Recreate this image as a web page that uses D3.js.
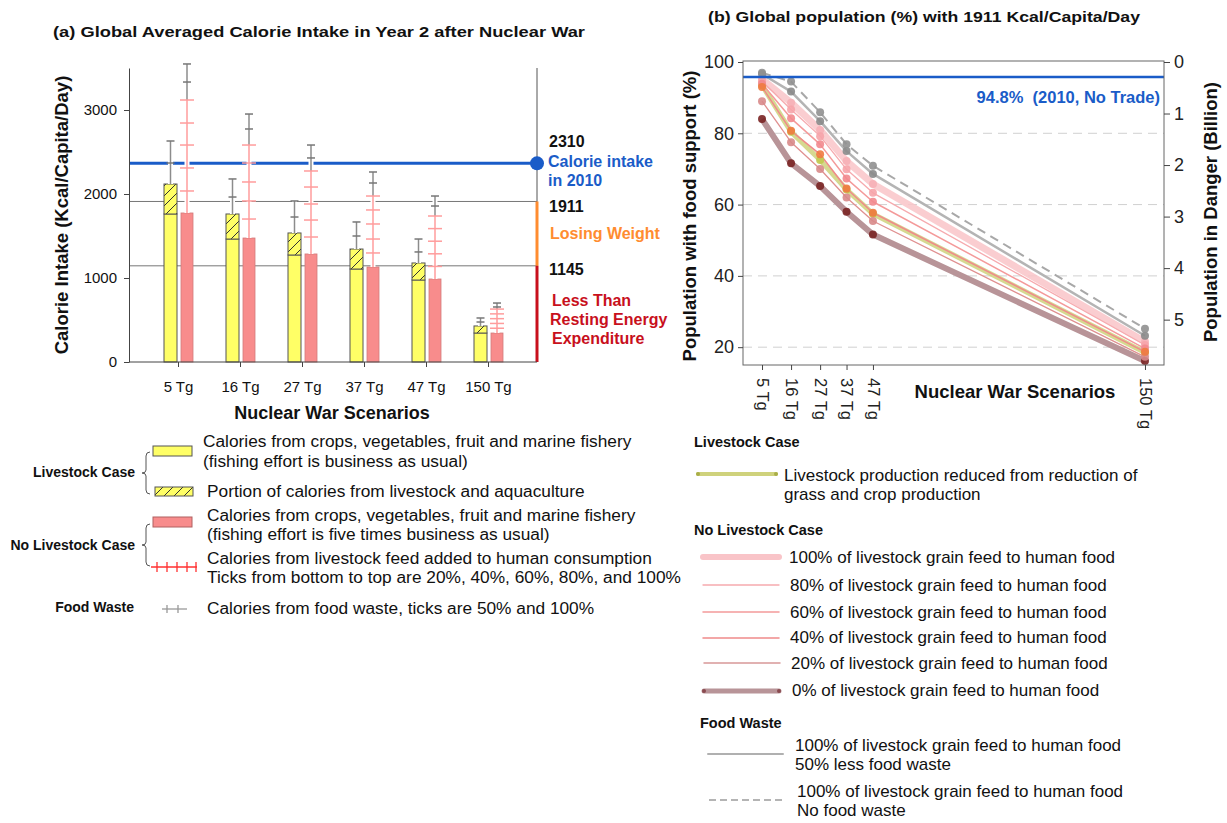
<!DOCTYPE html>
<html>
<head>
<meta charset="utf-8">
<script src="https://cdn.jsdelivr.net/npm/d3@7"></script>
<style>
  body { margin: 0; background: #fff; }
  text { font-family: "Liberation Sans", Arial, sans-serif; }
</style>
</head>
<body>
<div id="chart"></div>
<script>
// ---- panel (a) data: kcal/capita/day ----
var scenarios = ["5 Tg", "16 Tg", "27 Tg", "37 Tg", "47 Tg", "150 Tg"];
var livestockBase = [1762, 1464, 1274, 1107, 976, 345];
var livestockTotal = [2119, 1762, 1536, 1345, 1179, 429];
var livestockWaste50 = [2369, 1964, 1726, 1500, 1310, 476];
var livestockWaste100 = [2631, 2179, 1917, 1667, 1464, 524];
var noLivestockBase = [1774, 1476, 1286, 1131, 988, 345];
// 20%, 40%, 60%, 80%, 100% of feed added
var feedTicks = [
  [2036, 2310, 2583, 2845, 3119],
  [1702, 1917, 2143, 2369, 2583],
  [1488, 1690, 1881, 2083, 2274],
  [1298, 1464, 1643, 1810, 1976],
  [1138, 1288, 1438, 1588, 1738],
  [402, 459, 516, 573, 630]
];
var noLivestockWaste50 = [3333, 2774, 2429, 2131, 1857, 655];
var noLivestockWaste100 = [3548, 2952, 2583, 2262, 1976, 702];
var kcalTicks = [0, 1000, 2000, 3000];
var intake2010Line = 2365;
var thresholds = [1911, 1145];

// ---- panel (b) data: % population with food support ----
var tgValues = [5, 16, 27, 37, 47, 150];
var noWaste = [97.0, 94.5, 85.9, 76.9, 70.9, 25.2];
var halfWaste = [96.6, 91.7, 83.4, 75.0, 68.6, 23.2];
var feed100 = [95.2, 88.6, 80.9, 72.2, 65.8, 21.5];
var feed80 = [94.6, 86.7, 79.2, 69.9, 63.3, 20.6];
var feed60 = [93.9, 84.2, 76.9, 67.3, 60.8, 19.6];
var feed40 = [93.0, 80.7, 74.1, 64.5, 57.7, 18.7];
var livestockLine = [93.5, 80.4, 72.5, 64.2, 57.4, 18.5];
var feed20 = [89.0, 77.5, 70.0, 62.0, 55.4, 17.3];
var feed0 = [84.0, 71.6, 65.2, 58.0, 51.6, 16.1];
var pctTicks = [20, 40, 60, 80, 100];
var billionTicks = [0, 1, 2, 3, 4, 5];
var noTrade2010 = 95.8;

var svg = d3.select("#chart").append("svg")
  .attr("width", 1227)
  .attr("height", 823);

// hatch for livestock portion
var pat = svg.append("defs").append("pattern")
  .attr("id", "hatch")
  .attr("patternUnits", "userSpaceOnUse")
  .attr("width", 10).attr("height", 10);
pat.append("rect").attr("width", 10).attr("height", 10).attr("fill", "#ffff66");
pat.append("path")
  .attr("d", "M0,10 L10,0 M-2,2 L2,-2 M8,12 L12,8")
  .attr("stroke", "#333").attr("stroke-width", 1);

function addText(x, y, str, size, opts) {
  opts = opts || {};
  var t = svg.append("text")
    .attr("x", x).attr("y", y)
    .attr("font-size", size + "px")
    .attr("font-weight", opts.bold ? "bold" : "normal")
    .attr("fill", opts.color || "#111")
    .attr("text-anchor", opts.anchor || "start")
    .style("white-space", "pre")
    .text(str);
  if (opts.len) t.attr("textLength", opts.len).attr("lengthAdjust", "spacingAndGlyphs");
  if (opts.rotate) t.attr("transform", "rotate(-90," + x + "," + y + ")");
  return t;
}

// =================== PANEL (a) ===================
var xA = d3.scalePoint().domain(scenarios).range([178, 488]);
var yA = d3.scaleLinear().domain([0, 3500]).range([362, 68]);
var aLeft = 129, aRight = 537;

addText(53, 37, "(a) Global Averaged Calorie Intake in Year 2 after Nuclear War", 15, {bold: true, len: 532});

// reference lines
thresholds.forEach(function(v) {
  svg.append("line")
    .attr("x1", aLeft).attr("x2", aRight)
    .attr("y1", yA(v)).attr("y2", yA(v))
    .attr("stroke", "#777").attr("stroke-width", 1);
});
svg.append("line")
  .attr("x1", aLeft).attr("x2", aRight)
  .attr("y1", yA(intake2010Line)).attr("y2", yA(intake2010Line))
  .attr("stroke", "#1a5cc8").attr("stroke-width", 3);

// right side marker line
svg.append("line")
  .attr("x1", aRight).attr("x2", aRight).attr("y1", 68).attr("y2", 362)
  .attr("stroke", "#555").attr("stroke-width", 1);
svg.append("line")
  .attr("x1", aRight).attr("x2", aRight).attr("y1", yA(1911)).attr("y2", yA(1145))
  .attr("stroke", "#ff8c30").attr("stroke-width", 3);
svg.append("line")
  .attr("x1", aRight).attr("x2", aRight).attr("y1", yA(1145)).attr("y2", yA(0))
  .attr("stroke", "#c8101c").attr("stroke-width", 3);
svg.append("circle")
  .attr("cx", aRight).attr("cy", yA(intake2010Line)).attr("r", 7)
  .attr("fill", "#1a5cc8");

// bars
var idx = d3.range(scenarios.length);
svg.selectAll(".ybase").data(idx).enter().append("rect")
  .attr("x", function(i) { return xA(scenarios[i]) - 14; })
  .attr("width", 13)
  .attr("y", function(i) { return yA(livestockBase[i]); })
  .attr("height", function(i) { return yA(0) - yA(livestockBase[i]); })
  .attr("fill", "#ffff66").attr("stroke", "#555").attr("stroke-width", 1);
svg.selectAll(".yhatch").data(idx).enter().append("rect")
  .attr("x", function(i) { return xA(scenarios[i]) - 14; })
  .attr("width", 13)
  .attr("y", function(i) { return yA(livestockTotal[i]); })
  .attr("height", function(i) { return yA(livestockBase[i]) - yA(livestockTotal[i]); })
  .attr("fill", "url(#hatch)").attr("stroke", "#555").attr("stroke-width", 1);
svg.selectAll(".pbar").data(idx).enter().append("rect")
  .attr("x", function(i) { return xA(scenarios[i]) + 3; })
  .attr("width", 12)
  .attr("y", function(i) { return yA(noLivestockBase[i]); })
  .attr("height", function(i) { return yA(0) - yA(noLivestockBase[i]); })
  .attr("fill", "#f88c8c").attr("stroke", "#d27a7a").attr("stroke-width", 0.8);

// whiskers
function vseg(x, v1, v2, color) {
  svg.append("line").attr("x1", x).attr("x2", x)
    .attr("y1", yA(v1)).attr("y2", yA(v2))
    .attr("stroke", "#fff").attr("stroke-width", 5);
  svg.append("line").attr("x1", x).attr("x2", x)
    .attr("y1", yA(v1)).attr("y2", yA(v2))
    .attr("stroke", color).attr("stroke-width", 1.5);
}
function hTick(x, v, half, color) {
  svg.append("line").attr("x1", x - half).attr("x2", x + half)
    .attr("y1", yA(v)).attr("y2", yA(v))
    .attr("stroke", color).attr("stroke-width", 1.5);
}
idx.forEach(function(i) {
  var cy = xA(scenarios[i]) - 7.5;
  var cp = xA(scenarios[i]) + 9;
  vseg(cy, livestockTotal[i], livestockWaste100[i], "#8c8c8c");
  hTick(cy, livestockWaste50[i], 4, "#777");
  hTick(cy, livestockWaste100[i], 4, "#777");
  var f = feedTicks[i];
  vseg(cp, noLivestockBase[i], f[4], "#ff9c9c");
  vseg(cp, f[4], noLivestockWaste100[i], "#8c8c8c");
  f.forEach(function(v) { hTick(cp, v, 7, "#ff9c9c"); });
  hTick(cp, noLivestockWaste50[i], 4, "#777");
  hTick(cp, noLivestockWaste100[i], 4, "#777");
});

// axes
var leftA = svg.append("g")
  .attr("transform", "translate(" + aLeft + ",0)")
  .call(d3.axisLeft(yA).tickValues(kcalTicks).tickFormat(d3.format("d"))
    .tickSize(5).tickPadding(7).tickSizeOuter(0));
leftA.selectAll("text").attr("font-size", "15px").attr("fill", "#111")
  .attr("font-family", "Liberation Sans, Arial, sans-serif");
leftA.selectAll("line,path").attr("stroke", "#444");

var bottomA = svg.append("g")
  .attr("transform", "translate(0,362)")
  .call(d3.axisBottom(xA).tickSize(5).tickPadding(14).tickSizeOuter(0));
bottomA.select(".domain").remove();
bottomA.selectAll("text").attr("font-size", "15px").attr("fill", "#111")
  .attr("font-family", "Liberation Sans, Arial, sans-serif");
bottomA.selectAll("line").attr("stroke", "#444");
svg.append("line").attr("x1", aLeft).attr("x2", aRight).attr("y1", 362).attr("y2", 362)
  .attr("stroke", "#444");

addText(62, 215, "Calorie Intake (Kcal/Capita/Day)", 18.5, {bold: true, anchor: "middle", rotate: true}).attr("dy", "0.35em");
addText(332, 419, "Nuclear War Scenarios", 18, {bold: true, anchor: "middle"});

// right-hand labels
addText(549, 147, "2310", 16, {bold: true});
addText(548, 167, "Calorie intake", 16, {bold: true, color: "#1a5cc8"});
addText(548, 186, "in 2010", 16, {bold: true, color: "#1a5cc8"});
addText(549, 212, "1911", 16, {bold: true});
addText(550, 239, "Losing Weight", 16, {bold: true, color: "#ff8c30"});
addText(549, 275, "1145", 16, {bold: true});
addText(552, 306, "Less Than", 16, {bold: true, color: "#c8101c"});
addText(550, 325, "Resting Energy", 16, {bold: true, color: "#c8101c"});
addText(552, 344, "Expenditure", 16, {bold: true, color: "#c8101c"});

// legend (a)
function brace(x, y1, y2) {
  var m = (y1 + y2) / 2;
  svg.append("path")
    .attr("d", "M" + (x + 4) + "," + y1 + " Q" + x + "," + y1 + " " + x + "," + (y1 + 4) +
      " L" + x + "," + (m - 3) + " Q" + x + "," + m + " " + (x - 4) + "," + m +
      " Q" + x + "," + m + " " + x + "," + (m + 3) +
      " L" + x + "," + (y2 - 4) + " Q" + x + "," + y2 + " " + (x + 4) + "," + y2)
    .attr("fill", "none").attr("stroke", "#555").attr("stroke-width", 1);
}
addText(135, 477, "Livestock Case", 14, {bold: true, anchor: "end"});
brace(146, 452, 494);
addText(135, 550, "No Livestock Case", 14, {bold: true, anchor: "end"});
brace(146, 524, 566);
addText(134, 612, "Food Waste", 14, {bold: true, anchor: "end"});

svg.append("rect").attr("x", 153).attr("y", 446).attr("width", 39).attr("height", 10)
  .attr("fill", "#ffff66").attr("stroke", "#555");
svg.append("rect").attr("x", 155).attr("y", 487).attr("width", 38).attr("height", 9)
  .attr("fill", "url(#hatch)").attr("stroke", "#555");
svg.append("rect").attr("x", 153).attr("y", 517).attr("width", 39).attr("height", 10)
  .attr("fill", "#f88c8c").attr("stroke", "#b06060");
svg.append("line").attr("x1", 151).attr("x2", 197).attr("y1", 567).attr("y2", 567)
  .attr("stroke", "#ff3030").attr("stroke-width", 1.3);
[157, 167, 177, 187, 196].forEach(function(x) {
  svg.append("line").attr("x1", x).attr("x2", x).attr("y1", 562).attr("y2", 572)
    .attr("stroke", "#ff3030").attr("stroke-width", 1.3);
});
svg.append("line").attr("x1", 162).attr("x2", 187).attr("y1", 609).attr("y2", 609)
  .attr("stroke", "#999").attr("stroke-width", 1.3);
[167, 178].forEach(function(x) {
  svg.append("line").attr("x1", x).attr("x2", x).attr("y1", 605).attr("y2", 613)
    .attr("stroke", "#999").attr("stroke-width", 1.3);
});

addText(203, 447, "Calories from crops, vegetables, fruit and marine fishery", 17.3);
addText(203, 467, "(fishing effort is business as usual)", 17.3);
addText(207, 497, "Portion of calories from livestock and aquaculture", 17.3);
addText(207, 521, "Calories from crops, vegetables, fruit and marine fishery", 17.3);
addText(207, 540, "(fishing effort is five times business as usual)", 17.3);
addText(207, 564, "Calories from livestock feed added to human consumption", 17.3);
addText(207, 583, "Ticks from bottom to top are 20%, 40%, 60%, 80%, and 100%", 17.3);
addText(207, 614, "Calories from food waste, ticks are 50% and 100%", 17.3);

// =================== PANEL (b) ===================
var bL = 743, bR = 1164, bT = 61, bB = 365;
var xB = d3.scaleLinear().domain([-2.2, 157.2]).range([bL, bR]);
var yB = d3.scaleLinear().domain([15, 100]).range([bB, 62]);
var popB = d3.scaleLinear().domain([0, 5.88]).range([62, bB]);

addText(708, 22, "(b) Global population (%) with 1911 Kcal/Capita/Day", 15, {bold: true, len: 432});

// grid
pctTicks.filter(function(v) { return v < 100; }).forEach(function(v) {
  svg.append("line")
    .attr("x1", bL).attr("x2", bR).attr("y1", yB(v)).attr("y2", yB(v))
    .attr("stroke", "#d0d0d0").attr("stroke-width", 1).attr("stroke-dasharray", "9,6");
});

// line series, drawn thick ones first
var seriesList = [
  {vals: feed0, color: "#b89498", width: 6, dot: "#7a2424", op: 1},
  {vals: feed100, color: "#f9c4c8", width: 7, dot: "#f6b0b6", op: 0.85},
  {vals: livestockLine, color: "#cfd27c", width: 5, dot: "#c2c850", op: 0.85},
  {vals: feed20, color: "#e09090", width: 1.3, dot: "#d88a8a", op: 1},
  {vals: feed80, color: "#f6aaae", width: 1.3, dot: "#f6a4aa", op: 1},
  {vals: feed60, color: "#f49a9a", width: 1.5, dot: "#f28a8e", op: 1},
  {vals: feed40, color: "#f08a8a", width: 1.5, dot: "#f07a40", op: 1},
  {vals: halfWaste, color: "#b4b4b4", width: 2.5, dot: "#8a8a8a", op: 1},
  {vals: noWaste, color: "#a8a8a8", width: 2, dot: "#909090", op: 1, dash: "9,6"}
];
var lineGen = d3.line()
  .x(function(d, i) { return xB(tgValues[i]); })
  .y(function(d) { return yB(d); });
seriesList.forEach(function(s) {
  svg.append("path")
    .attr("d", lineGen(s.vals))
    .attr("fill", "none")
    .attr("stroke", s.color)
    .attr("stroke-width", s.width)
    .attr("stroke-opacity", s.op)
    .attr("stroke-linejoin", "round")
    .attr("stroke-dasharray", s.dash || null);
});
seriesList.forEach(function(s) {
  svg.selectAll(null).data(s.vals).enter().append("circle")
    .attr("cx", function(d, i) { return xB(tgValues[i]); })
    .attr("cy", function(d) { return yB(d); })
    .attr("r", 4)
    .attr("fill", s.dot)
    .attr("opacity", 0.9);
});

// 2010 reference
svg.append("line")
  .attr("x1", bL).attr("x2", bR).attr("y1", yB(noTrade2010)).attr("y2", yB(noTrade2010))
  .attr("stroke", "#1a5cc8").attr("stroke-width", 2.5);
addText(1160, 103, "94.8%  (2010, No Trade)", 16.5, {bold: true, color: "#1a5cc8", anchor: "end"});

// frame and axes
svg.append("rect").attr("x", bL).attr("y", bT).attr("width", bR - bL).attr("height", bB - bT)
  .attr("fill", "none").attr("stroke", "#666").attr("stroke-width", 1);

var leftB = svg.append("g").attr("transform", "translate(" + bL + ",0)")
  .call(d3.axisLeft(yB).tickValues(pctTicks).tickFormat(d3.format("d"))
    .tickSize(5).tickPadding(4).tickSizeOuter(0));
leftB.select(".domain").remove();
var rightB = svg.append("g").attr("transform", "translate(" + bR + ",0)")
  .call(d3.axisRight(popB).tickValues(billionTicks).tickFormat(d3.format("d"))
    .tickSize(6).tickPadding(4).tickSizeOuter(0));
rightB.select(".domain").remove();
var bottomB = svg.append("g").attr("transform", "translate(0," + bB + ")")
  .call(d3.axisBottom(xB).tickValues(tgValues).tickFormat(function(d) { return d + " Tg"; })
    .tickSize(5).tickSizeOuter(0));
bottomB.select(".domain").remove();
bottomB.selectAll("text")
  .attr("y", 0).attr("x", 13).attr("dy", "0.35em")
  .attr("transform", "rotate(90)")
  .style("text-anchor", "start");
[leftB, rightB].forEach(function(g) {
  g.selectAll("text").attr("font-size", "18px").attr("fill", "#222")
    .attr("font-family", "Liberation Sans, Arial, sans-serif");
});
bottomB.selectAll("text").attr("font-size", "16.5px").attr("fill", "#222")
  .attr("font-family", "Liberation Sans, Arial, sans-serif");
[leftB, rightB, bottomB].forEach(function(g) {
  g.selectAll("line").attr("stroke", "#444");
});

addText(690, 216, "Population with food support (%)", 18.5, {bold: true, anchor: "middle", rotate: true}).attr("dy", "0.35em");
addText(1211, 212, "Population in Danger (Billion)", 18.5, {bold: true, anchor: "middle", rotate: true}).attr("dy", "0.35em");
addText(1015, 398, "Nuclear War Scenarios", 18.5, {bold: true, anchor: "middle"});

// legend (b)
function legLine(x1, x2, y, color, w, dash, endDots) {
  svg.append("line").attr("x1", x1).attr("x2", x2).attr("y1", y).attr("y2", y)
    .attr("stroke", color).attr("stroke-width", w)
    .attr("stroke-linecap", dash ? "butt" : "round")
    .attr("stroke-dasharray", dash || null);
  if (endDots) {
    [x1, x2].forEach(function(x) {
      svg.append("circle").attr("cx", x).attr("cy", y).attr("r", 2).attr("fill", endDots);
    });
  }
}
addText(694, 447, "Livestock Case", 14.5, {bold: true});
legLine(698, 776, 474, "#cfd27c", 4, null, "#a9ae48");
addText(784, 481, "Livestock production reduced from reduction of", 17);
addText(784, 500, "grass and crop production", 17);

addText(694, 535, "No Livestock Case", 14.5, {bold: true});
legLine(703, 779, 557, "#f9c4c8", 6);
addText(789, 563, "100% of livestock grain feed to human food", 17);
legLine(703, 779, 585, "#f6aaae", 1.3);
addText(790, 591, "80% of livestock grain feed to human food", 17);
legLine(703, 779, 612, "#f49a9a", 1.5);
addText(790, 618, "60% of livestock grain feed to human food", 17);
legLine(703, 779, 638, "#f08a8a", 1.5);
addText(790, 643, "40% of livestock grain feed to human food", 17);
legLine(704, 780, 663, "#d89898", 1.5);
addText(791, 669, "20% of livestock grain feed to human food", 17);
legLine(704, 779, 691, "#b89498", 5, null, "#8a4a50");
addText(792, 696, "0% of livestock grain feed to human food", 17);

addText(700, 728, "Food Waste", 14.5, {bold: true});
legLine(708, 783, 754, "#b0b0b0", 2);
addText(795, 751, "100% of livestock grain feed to human food", 17);
addText(795, 770, "50% less food waste", 17);
legLine(709, 783, 800, "#b4b4b4", 2, "7,4");
addText(797, 797, "100% of livestock grain feed to human food", 17);
addText(797, 816, "No food waste", 17);
</script>
</body>
</html>
